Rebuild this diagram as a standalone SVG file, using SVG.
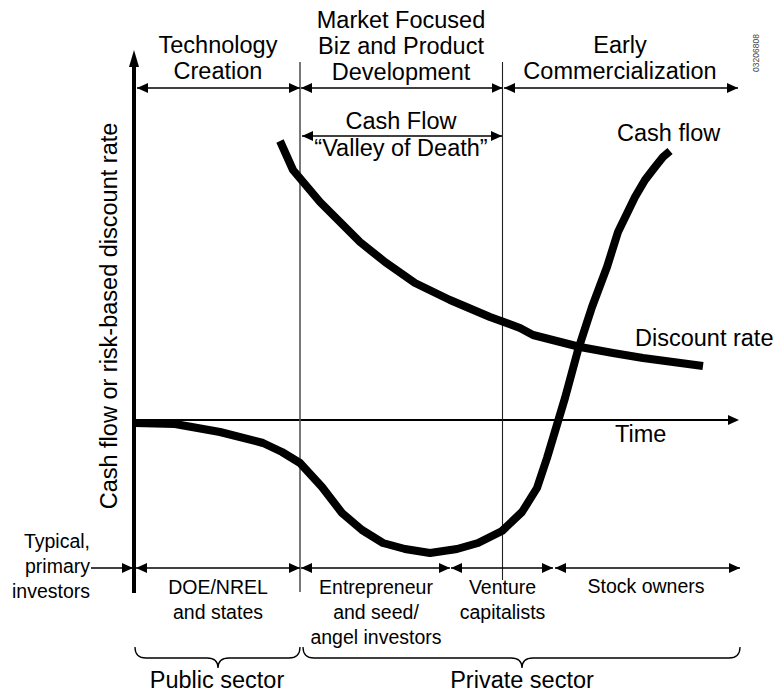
<svg xmlns="http://www.w3.org/2000/svg" width="776" height="694" viewBox="0 0 776 694">
<defs>
<marker id="ah" viewBox="0 0 11 10" refX="11" refY="5" markerWidth="11" markerHeight="10" markerUnits="userSpaceOnUse" orient="auto-start-reverse">
<path d="M0,0 L11,5 L0,10 Z" fill="#000"/>
</marker>
</defs>
<style>
text{font-family:"Liberation Sans",Arial,sans-serif;fill:#000}
.big{font-size:23.5px}
.sm{font-size:19.5px}
.mid{text-anchor:middle}
.arr{stroke:#000;stroke-width:1.5;fill:none;marker-start:url(#ah);marker-end:url(#ah)}
.one{stroke:#000;stroke-width:1.5;fill:none;marker-end:url(#ah)}
.curve{stroke:#000;stroke-width:8;fill:none;stroke-linejoin:round}
.brace{stroke:#000;stroke-width:1.3;fill:none}
</style>
<rect width="776" height="694" fill="#fff"/>

<g id="axes">
<line x1="134" y1="64" x2="134" y2="593" stroke="#000" stroke-width="4"/>
<path d="M134,50 L139,67 L129,67 Z" fill="#000"/>
<line x1="134" y1="420" x2="730" y2="420" stroke="#000" stroke-width="2"/>
<path d="M739,420 L728,415 L728,425 Z" fill="#000"/>
<text class="big mid" transform="translate(117,316) rotate(-90)">Cash flow or risk-based discount rate</text>
<text class="big" x="615" y="442">Time</text>
</g>

<g id="dividers">
<line x1="300" y1="62" x2="300" y2="592" stroke="#555" stroke-width="1.6"/>
<line x1="502.5" y1="62" x2="502.5" y2="580" stroke="#222" stroke-width="1.1"/>
</g>

<g id="phase-tech">
<text class="big mid" x="218" y="53">Technology</text>
<text class="big mid" x="218" y="79">Creation</text>
</g>
<g id="phase-market">
<text class="big mid" x="401" y="28">Market Focused</text>
<text class="big mid" x="401" y="54">Biz and Product</text>
<text class="big mid" x="401" y="80">Development</text>
</g>
<g id="phase-early">
<text class="big mid" x="620" y="53">Early</text>
<text class="big mid" x="620" y="79">Commercialization</text>
</g>
<g id="valley">
<text class="big mid" x="401" y="129">Cash Flow</text>
<text class="big mid" x="401" y="156">“Valley of Death”</text>
</g>

<g id="connectors">
<line class="arr" x1="137" y1="88" x2="300" y2="88"/>
<line class="arr" x1="301" y1="88" x2="502.5" y2="88"/>
<line class="arr" x1="504" y1="88" x2="738" y2="88"/>
<line class="arr" x1="302" y1="136" x2="502" y2="136"/>
<line class="one" x1="91" y1="568" x2="133" y2="568"/>
<line class="arr" x1="136" y1="568" x2="300" y2="568"/>
<line class="arr" x1="301" y1="568" x2="450" y2="568"/>
<line class="arr" x1="451" y1="568" x2="553" y2="568"/>
<line class="arr" x1="555" y1="568" x2="740" y2="568"/>
</g>

<g id="curve-cashflow">
<polyline class="curve" points="135,423 175,424 220,432 263,443 282,452 300,463 322,487 342,513 362,530 383,543 405,549 430,553 457,549 478,543 502,531 522,512 537,488 547,458 556,428 565,398 578,350 592,307 607,267 618,232 635,197 645,180 655,167 663,157 670,151"/>
<text class="big" x="617" y="141">Cash flow</text>
</g>

<g id="curve-discount">
<polyline class="curve" points="280,141 293,170 320,202 340,222 360,242 385,262 415,283 450,300 490,317 520,328 533,335 580,347 613,353 643,358 703,366"/>
<text class="big" x="635" y="346">Discount rate</text>
</g>

<g id="investors">
<text class="sm" x="90" y="548" text-anchor="end">Typical,</text>
<text class="sm" x="90" y="573" text-anchor="end">primary</text>
<text class="sm" x="90" y="598" text-anchor="end">investors</text>
<text class="sm mid" x="218" y="594">DOE/NREL</text>
<text class="sm mid" x="218" y="619">and states</text>
<text class="sm mid" x="376" y="594">Entrepreneur</text>
<text class="sm mid" x="376" y="619">and seed/</text>
<text class="sm mid" x="376" y="644">angel investors</text>
<text class="sm mid" x="502.5" y="594">Venture</text>
<text class="sm mid" x="502.5" y="619">capitalists</text>
<text class="sm mid" x="646" y="593">Stock owners</text>
</g>

<g id="sector-public">
<path class="brace" d="M135,647 Q135,658 146,658 L207,658 Q218,658 218,668 Q218,658 229,658 L289,658 Q300,658 300,647"/>
<text class="big mid" x="217" y="688">Public sector</text>
</g>
<g id="sector-private">
<path class="brace" d="M303,647 Q303,658 314,658 L511,658 Q522,658 522,668 Q522,658 533,658 L729,658 Q740,658 740,647"/>
<text class="big mid" x="522" y="688">Private sector</text>
</g>

<text x="759" y="53" text-anchor="middle" transform="rotate(-90 759 53)" style="font-size:8.5px;fill:#444">03206808</text>
</svg>
